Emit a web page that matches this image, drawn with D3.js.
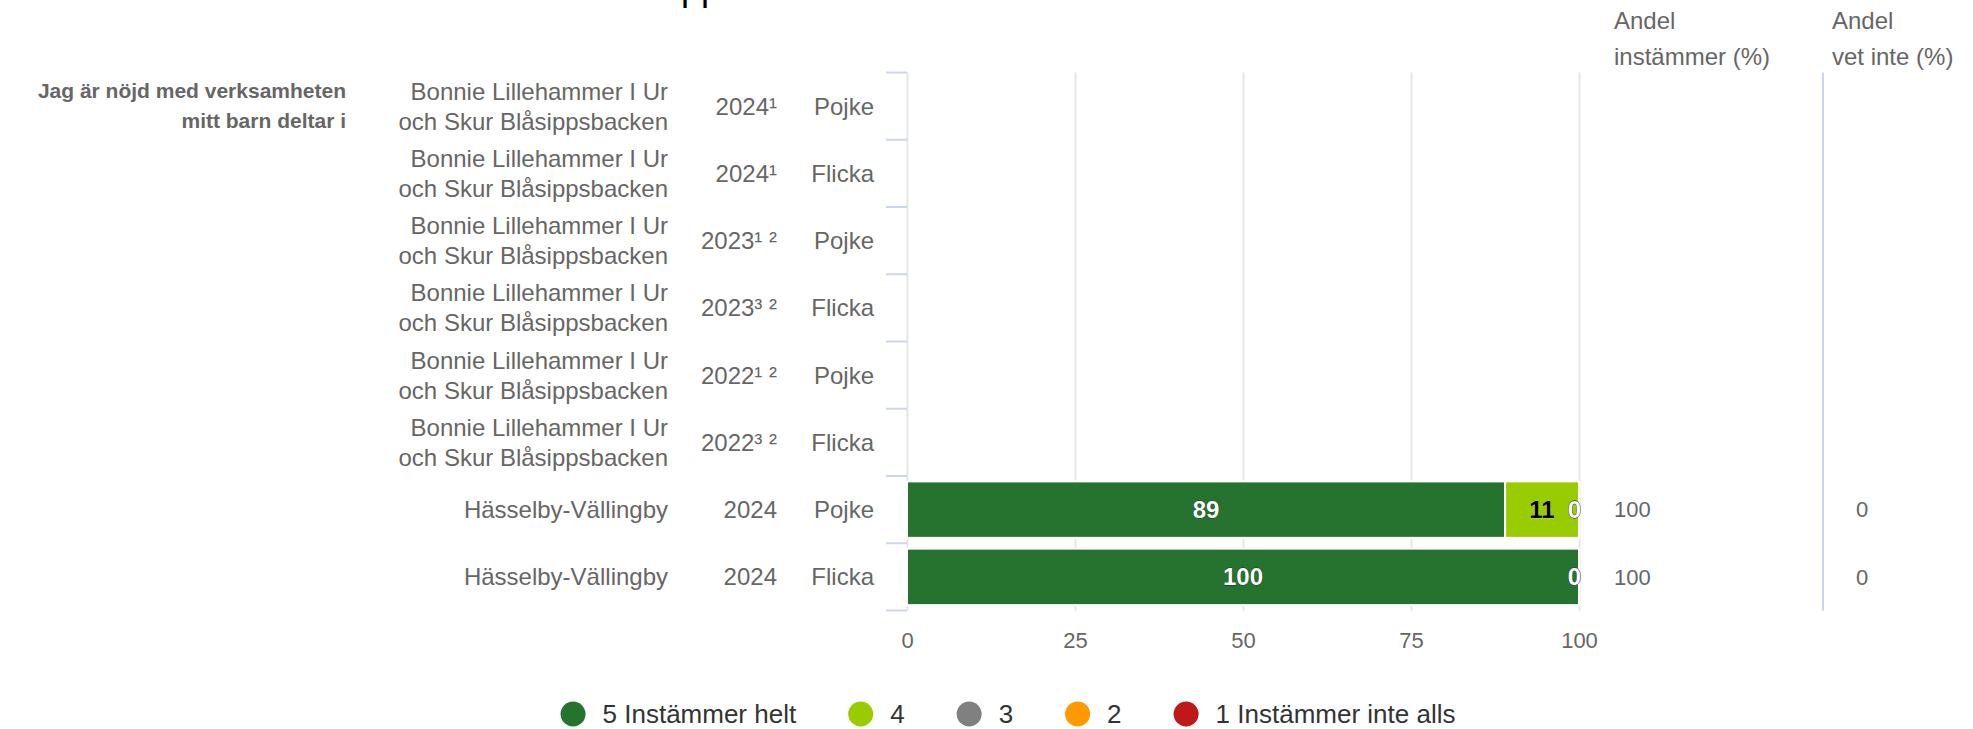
<!DOCTYPE html>
<html>
<head>
<meta charset="utf-8">
<script src="https://cdn.jsdelivr.net/npm/d3@7/dist/d3.min.js"></script>
<style>
  html, body { margin: 0; padding: 0; background: #ffffff; }
  svg { display: block; font-family: "Liberation Sans", Arial, Helvetica, sans-serif; }
</style>
</head>
<body>
<svg id="chart" width="1973" height="729"></svg>
<script>
// ---------- data ----------
const chartTitle = "Bonnie Lillehammer I Ur och Skur Blåsippsbacken";
const questionLines = ["Jag är nöjd med verksamheten", "mitt barn deltar i"];
const unitLines = [
  ["Bonnie Lillehammer I Ur", "och Skur Blåsippsbacken"],
  ["Bonnie Lillehammer I Ur", "och Skur Blåsippsbacken"],
  ["Bonnie Lillehammer I Ur", "och Skur Blåsippsbacken"],
  ["Bonnie Lillehammer I Ur", "och Skur Blåsippsbacken"],
  ["Bonnie Lillehammer I Ur", "och Skur Blåsippsbacken"],
  ["Bonnie Lillehammer I Ur", "och Skur Blåsippsbacken"],
  ["Hässelby-Vällingby"],
  ["Hässelby-Vällingby"]
];
const years = ["2024¹", "2024¹", "2023¹ ²", "2023³ ²", "2022¹ ²", "2022³ ²", "2024", "2024"];
const genders = ["Pojke", "Flicka", "Pojke", "Flicka", "Pojke", "Flicka", "Pojke", "Flicka"];

const seriesNames = ["5 Instämmer helt", "4", "3", "2", "1 Instämmer inte alls"];
const seriesColors = ["#267330", "#99cc00", "#808080", "#ff9900", "#be1818"];
const s5 = [null, null, null, null, null, null, 89, 100];
const s4 = [null, null, null, null, null, null, 11, 0];
const s3 = [null, null, null, null, null, null, 0, 0];
const s2 = [null, null, null, null, null, null, 0, 0];
const s1 = [null, null, null, null, null, null, 0, 0];
const seriesValues = [s5, s4, s3, s2, s1];

const andelInstammer = [null, null, null, null, null, null, 100, 100];
const andelVetInte = [null, null, null, null, null, null, 0, 0];
const headerInstammer = ["Andel", "instämmer (%)"];
const headerVetInte = ["Andel", "vet inte (%)"];
const xTicks = [0, 25, 50, 75, 100];

// ---------- layout ----------
const svg = d3.select("#chart");
const plotLeft = 907, plotRight = 1579, plotTop = 72.5, plotBottom = 610.5;
const textColor = "#666666";

const x = d3.scaleLinear().domain([0, 100]).range([plotLeft, plotRight]);
const rows = d3.range(unitLines.length);
const y = d3.scaleBand().domain(rows).range([plotTop, plotBottom])
  .paddingInner(0.16).paddingOuter(0.08);
const rowCenter = i => y(i) + y.bandwidth() / 2;

// title (mostly cut off at the top edge, as in the reference)
const title = svg.append("text")
  .attr("y", -0.5)
  .attr("font-size", 36)
  .attr("fill", "#000000")
  .text(chartTitle);
const idx = chartTitle.indexOf("pp");
const prefixW = title.node().getSubStringLength(0, idx);
title.attr("x", 681 - prefixW);

// gridlines
const grid = svg.append("g")
  .attr("transform", `translate(0,${plotBottom})`)
  .call(d3.axisBottom(x).tickValues(xTicks).tickSize(-(plotBottom - plotTop)).tickFormat(""));
grid.select(".domain").remove();
grid.selectAll(".tick line").attr("stroke", "#e6e6e6").attr("stroke-width", 2);

// x axis labels
const xAxis = svg.append("g")
  .attr("transform", `translate(0,${plotBottom})`)
  .call(d3.axisBottom(x).tickValues(xTicks).tickSize(0).tickPadding(22));
xAxis.select(".domain").remove();
xAxis.selectAll("text").attr("font-size", 22).attr("fill", textColor)
  .attr("font-family", "'Liberation Sans', Arial, sans-serif");

// category boundary ticks
const boundaries = d3.range(rows.length + 1).map(i => plotTop + i * y.step());
svg.append("g").selectAll("line").data(boundaries).join("line")
  .attr("x1", plotLeft - 21).attr("x2", plotLeft)
  .attr("y1", d => d).attr("y2", d => d)
  .attr("stroke", "#ccd6eb").attr("stroke-width", 2);

// stacked bars
const stackData = rows.map(i => {
  const o = { i };
  seriesNames.forEach((n, k) => { o[n] = seriesValues[k][i] == null ? 0 : seriesValues[k][i]; });
  return o;
});
const stack = d3.stack().keys(seriesNames)(stackData);

const barG = svg.append("g");
stack.forEach((layer, k) => {
  barG.selectAll(null).data(layer.filter(d => seriesValues[k][d.data.i] != null && d[1] - d[0] > 0))
    .join("rect")
    .attr("x", d => x(d[0]))
    .attr("y", d => y(d.data.i))
    .attr("width", d => x(d[1]) - x(d[0]))
    .attr("height", y.bandwidth())
    .attr("fill", seriesColors[k])
    .attr("stroke", "#ffffff")
    .attr("stroke-width", 2);
});

// data labels
function contrast(hex) {
  const c = d3.rgb(hex);
  return (c.r * 299 + c.g * 587 + c.b * 114) / 1000 > 128 ? "#000000" : "#FFFFFF";
}
const labelG = svg.append("g");
stack.forEach((layer, k) => {
  layer.forEach(d => {
    const v = seriesValues[k][d.data.i];
    if (v == null) return;
    const zero = d[1] - d[0] === 0;
    const fill = contrast(seriesColors[k]);
    labelG.append("text")
      .attr("x", zero ? x(d[1]) + 2 : x((d[0] + d[1]) / 2))
      .attr("y", rowCenter(d.data.i))
      .attr("dy", "0.35em")
      .attr("text-anchor", zero ? "end" : "middle")
      .attr("font-size", 24)
      .attr("font-weight", "bold")
      .attr("fill", fill)
      .attr("stroke", fill === "#FFFFFF" ? "#000000" : "#FFFFFF")
      .attr("stroke-width", fill === "#FFFFFF" ? 0.8 : 0.5)
      .attr("stroke-opacity", 0.6)
      .attr("stroke-linejoin", "round")
      .attr("paint-order", "stroke")
      .text(v);
  });
});

// left labels: question
const q = svg.append("text")
  .attr("text-anchor", "end")
  .attr("font-size", 21)
  .attr("font-weight", "bold")
  .attr("fill", textColor);
questionLines.forEach((l, j) => {
  q.append("tspan").attr("x", 346).attr("y", rowCenter(0) - 15 + j * 30).attr("dy", "0.35em").text(l);
});

// unit names
const unitG = svg.append("g");
rows.forEach(i => {
  const lines = unitLines[i];
  const t = unitG.append("text")
    .attr("text-anchor", "end")
    .attr("font-size", 24)
    .attr("fill", textColor);
  lines.forEach((l, j) => {
    const off = (j - (lines.length - 1) / 2) * 30;
    t.append("tspan").attr("x", 668).attr("y", rowCenter(i) + off).attr("dy", "0.35em").text(l);
  });
});

// years
svg.append("g").selectAll("text").data(rows).join("text")
  .attr("x", 777).attr("y", i => rowCenter(i)).attr("dy", "0.35em")
  .attr("text-anchor", "end").attr("font-size", 24).attr("fill", textColor)
  .text(i => years[i]);

// gender
svg.append("g").selectAll("text").data(rows).join("text")
  .attr("x", 874).attr("y", i => rowCenter(i)).attr("dy", "0.35em")
  .attr("text-anchor", "end").attr("font-size", 24).attr("fill", textColor)
  .text(i => genders[i]);

// right columns
function header(lines, xPos) {
  const t = svg.append("text").attr("font-size", 24).attr("fill", textColor);
  lines.forEach((l, j) => t.append("tspan").attr("x", xPos).attr("y", 21 + j * 36).attr("dy", "0.35em").text(l));
}
header(headerInstammer, 1614);
header(headerVetInte, 1832);

svg.append("g").selectAll("text").data(rows.filter(i => andelInstammer[i] != null)).join("text")
  .attr("x", 1614).attr("y", i => rowCenter(i)).attr("dy", "0.35em")
  .attr("font-size", 22).attr("fill", textColor)
  .text(i => andelInstammer[i]);
svg.append("g").selectAll("text").data(rows.filter(i => andelVetInte[i] != null)).join("text")
  .attr("x", 1862).attr("y", i => rowCenter(i)).attr("dy", "0.35em")
  .attr("text-anchor", "middle")
  .attr("font-size", 22).attr("fill", textColor)
  .text(i => andelVetInte[i]);

svg.append("line")
  .attr("x1", 1823).attr("x2", 1823).attr("y1", plotTop).attr("y2", plotBottom)
  .attr("stroke", "#ccd6eb").attr("stroke-width", 2);

// legend
const legendY = 714;
const legend = svg.append("g");
const items = seriesNames.map((n, k) => {
  const g = legend.append("g");
  g.append("circle").attr("cx", 12.5).attr("cy", 0).attr("r", 12.5).attr("fill", seriesColors[k]);
  const t = g.append("text").attr("x", 42).attr("y", 0).attr("dy", "0.35em")
    .attr("font-size", 26).attr("fill", "#333333").text(n);
  return { g, w: 42 + t.node().getComputedTextLength() };
});
const gap = 52;
const total = d3.sum(items, d => d.w) + gap * (items.length - 1);
let cx = 1008 - total / 2;
items.forEach(it => {
  it.g.attr("transform", `translate(${cx},${legendY})`);
  cx += it.w + gap;
});
</script>
</body>
</html>
